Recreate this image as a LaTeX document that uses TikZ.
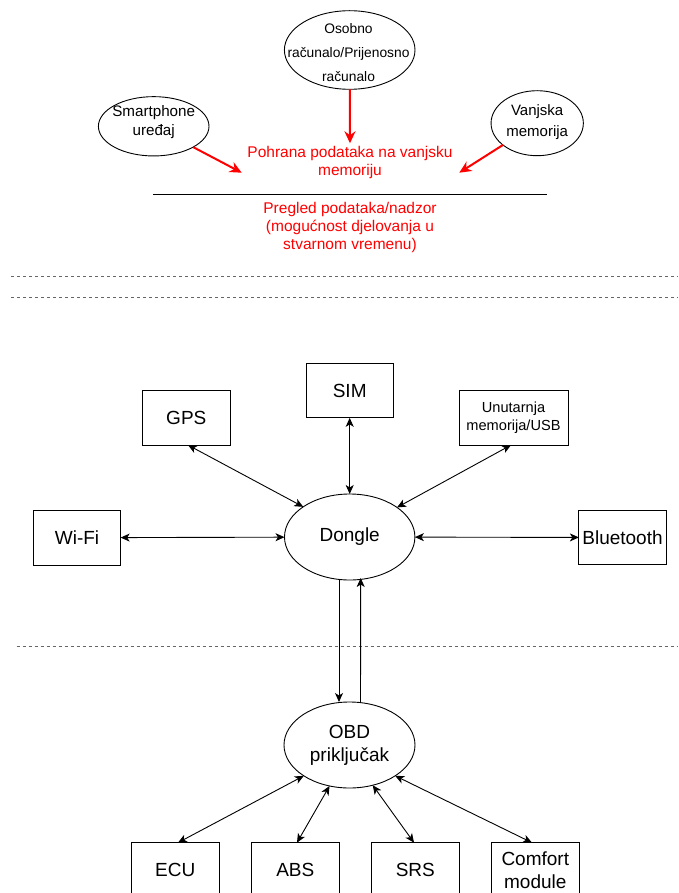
\documentclass[tikz,border=0pt]{standalone}
\usepackage{fontspec}
\setmainfont{Liberation Sans}
\usetikzlibrary{shapes.geometric,arrows.meta}
\begin{document}
\begin{tikzpicture}[x=1pt,y=-1pt,
  every node/.style={inner sep=0pt, outer sep=0pt},
  lw/.style={line width=0.9pt},
  box/.style={draw, line width=0.9pt, rectangle, minimum width=87.3pt, minimum height=54.7pt, font=\fontsize{19}{22.7}\selectfont, align=center},
  oval/.style={draw, line width=0.9pt, ellipse, inner sep=0pt},
  bi/.style={line width=0.9pt, {Stealth[length=9pt,width=8pt,inset=2.5pt]}-{Stealth[length=9pt,width=8pt,inset=2.5pt]}},
  uni/.style={line width=0.9pt, -{Stealth[length=9pt,width=8pt,inset=2.5pt]}},
  redar/.style={draw=red, line width=2pt, -{Stealth[length=12pt,width=11pt]}},
  sepline/.style={draw=black!60, line width=0.9pt, dash pattern=on 3pt off 3pt},
  redtxt/.style={text=red, font=\fontsize{15.5}{18}\selectfont, align=center}
]
\useasboundingbox (0,0) rectangle (678,893);
\clip (0,0) rectangle (678,893);

% top part
\node[oval, minimum width=130.6pt, minimum height=78.6pt] (osobno) at (349.7,50) {};
\node[font=\fontsize{13.8}{24}\selectfont, align=center] (osobnoT) at (348.5,53) {Osobno\\računalo/Prijenosno\\računalo};
\node[oval, minimum width=110.6pt, minimum height=59.3pt] (smart) at (153.7,126.3) {};
\node[font=\fontsize{15.2}{19}\selectfont, align=center] (smartT) at (153.7,122) {Smartphone\\uređaj};
\node[oval, minimum width=92.3pt, minimum height=65pt] (vanj) at (537.2,123.2) {};
\node[font=\fontsize{15}{20.5}\selectfont, align=center] (vanjT) at (537.2,122) {Vanjska\\memorija};

\node[redtxt] (pohrana) at (350,162.5) {Pohrana podataka na vanjsku\\memoriju};
\coordinate (pohT) at (350,143.3);
\coordinate (pohL) at (241.7,172.7);
\coordinate (pohR) at (459.3,172.7);
\draw[redar] (osobno) -- (pohT);
\draw[redar] (smart) -- (pohL);
\draw[redar] (vanj) -- (pohR);

\coordinate (lineL) at (153.3,194);
\coordinate (lineR) at (546.7,194);
\draw[lw] (lineL) -- (lineR);
\node[redtxt] (pregled) at (350,227.5) {Pregled podataka/nadzor\\(mogućnost djelovanja u\\stvarnom vremenu)};

% separators
\draw[sepline] (11,276) -- (678,276);
\draw[sepline] (11,297.7) -- (678,297.7);
\draw[sepline] (16.7,646.7) -- (677,646.7);

% middle part
\node[box] (sim) at (349.7,390.5) {SIM};
\node[box] (gps) at (186.3,417.7) {GPS};
\node[box, minimum width=109pt, font=\fontsize{14.6}{17.4}\selectfont] (unut) at (513.5,417.7) {Unutarnja\\memorija/USB};
\node[box] (wifi) at (77,537.7) {Wi-Fi};
\node[box] (bt) at (622.5,537.5) {Bluetooth};
\node[oval, minimum width=130.4pt, minimum height=86pt, font=\fontsize{19}{22.7}\selectfont] (dongle) at (349.7,537) {Dongle};

\draw[bi] ([xshift=1.7pt]gps.south) -- (dongle.147);
\draw[bi] (sim) -- (dongle);
\draw[bi] ([xshift=-2.5pt]unut.south) -- (dongle.32);
\draw[bi] (wifi) -- (dongle);
\draw[bi] (dongle) -- (bt);

% bottom part
\node[oval, minimum width=131pt, minimum height=86pt, font=\fontsize{19}{22.7}\selectfont, align=center] (obd) at (349.5,745) {OBD\\priključak};
\draw[uni] ([xshift=-10.7pt]dongle.south) -- ([xshift=-10.5pt]obd.north);
\draw[uni] ([xshift=11pt]obd.north) -- ([xshift=11pt,yshift=2pt]dongle.south);

\node[box] (ecu) at (175.3,870) {ECU};
\node[box] (abs) at (295.3,870) {ABS};
\node[box] (srs) at (415.3,870) {SRS};
\node[box] (comf) at (535.3,870) {Comfort\\module};

\draw[bi] (obd.214) -- ([xshift=2.7pt]ecu.north);
\draw[bi] (obd.244) -- ([xshift=1.7pt]abs.north);
\draw[bi] (obd.300) -- ([xshift=-1.3pt]srs.north);
\draw[bi] (obd.326) -- ([xshift=-3.3pt]comf.north);
\end{tikzpicture}
\end{document}
